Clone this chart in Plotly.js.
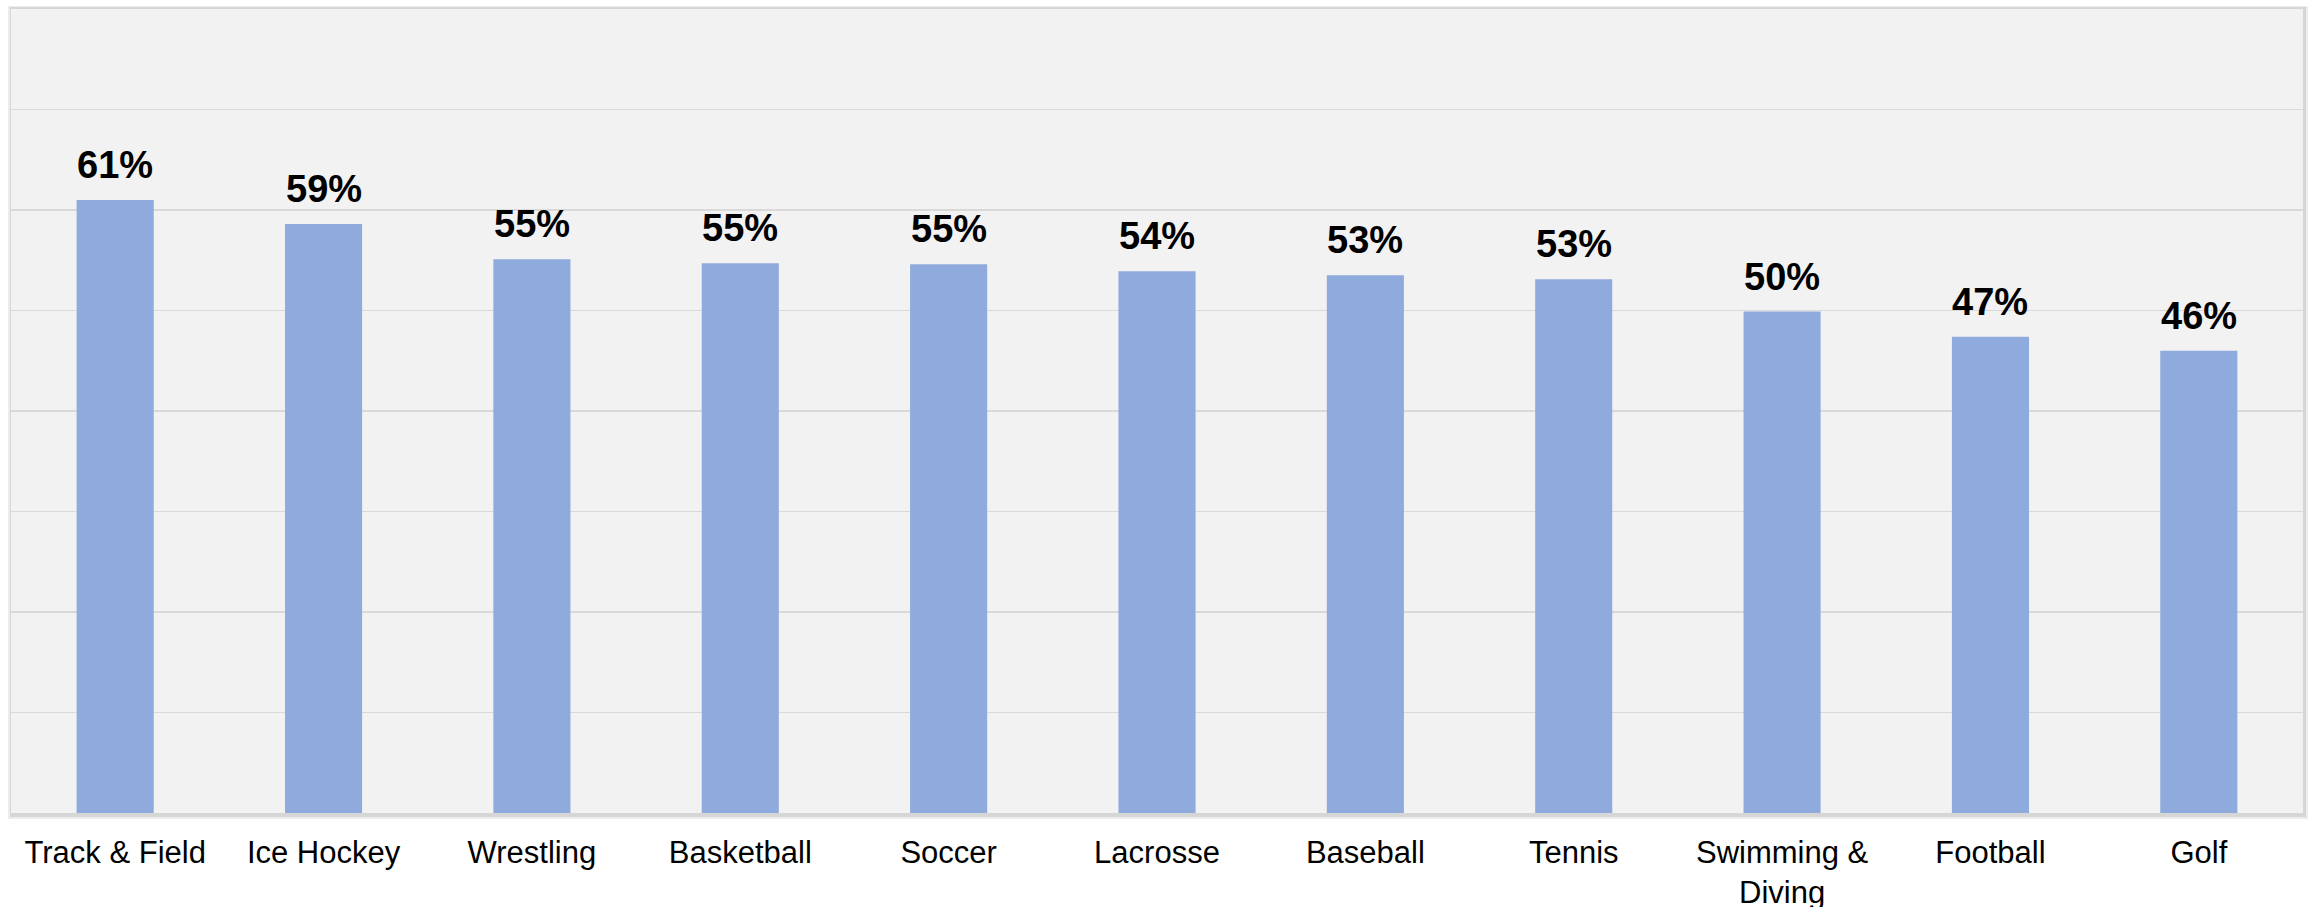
<!DOCTYPE html>
<html>
<head>
<meta charset="utf-8">
<script src="https://cdn.plot.ly/plotly-3.0.1.min.js"></script>
<style>
  html, body { margin: 0; padding: 0; background: #ffffff; }
  #chart { width: 2315px; height: 907px; }
</style>
</head>
<body>
<div id="chart"></div>
<script>
// ---- data ----
const categories = ["Track & Field", "Ice Hockey", "Wrestling", "Basketball", "Soccer",
                    "Lacrosse", "Baseball", "Tennis", "Swimming &<br>Diving", "Football", "Golf"];
const shares = [0.610, 0.586, 0.551, 0.547, 0.546, 0.539, 0.535, 0.531, 0.499, 0.474, 0.460];
const labelTexts = ["61%", "59%", "55%", "55%", "55%", "54%", "53%", "53%", "50%", "47%", "46%"];

// ---- geometry (pixels) ----
const W = 2315, H = 907;
const mL = 11, mR = 12, mT = 9, mB = 94;
const plotW = W - mL - mR, plotH = H - mT - mB;
const px = v => v / plotW, py = v => v / plotH;

const trace = {
  type: "bar",
  x: categories,
  y: shares,
  marker: { color: "#8FAADC", line: { width: 0 } },
  hoverinfo: "x+y"
};

const annotations = categories.map((c, i) => ({
  x: c, y: shares[i], xref: "x", yref: "y",
  text: labelTexts[i], showarrow: false,
  yanchor: "bottom", yshift: 12,
  font: { family: "Liberation Sans, Arial, sans-serif", size: 38, color: "#000000", weight: "bold" }
}));

const layout = {
  width: W, height: H,
  margin: { l: mL, r: mR, t: mT, b: mB, pad: 0 },
  paper_bgcolor: "#ffffff",
  plot_bgcolor: "rgba(0,0,0,0)",
  bargap: 0.63,
  showlegend: false,
  xaxis: {
    type: "category",
    showgrid: false, zeroline: false, showline: false,
    ticks: "", ticklabelstandoff: 18,
    tickfont: { family: "Liberation Sans, Arial, sans-serif", size: 31, color: "#000000" },
    fixedrange: true
  },
  yaxis: {
    range: [0, 0.8],
    dtick: 0.1, tick0: 0,
    showgrid: true, gridcolor: "#D9D9D9", gridwidth: 1.5,
    zeroline: false, showline: false, showticklabels: false, ticks: "",
    fixedrange: true
  },
  annotations: annotations,
  shapes: [
    { type: "rect", xref: "paper", yref: "paper", layer: "below",
      x0: px(-3), x1: 1 + px(5), y0: -py(6), y1: 1 + py(3),
      fillcolor: "#ececec", line: { width: 0 } },
    { type: "rect", xref: "paper", yref: "paper", layer: "below",
      x0: px(-1), x1: 1 + px(3), y0: -py(4), y1: 1 + py(2),
      fillcolor: "#d6d6d6", line: { width: 0 } },
    { type: "rect", xref: "paper", yref: "paper", layer: "below",
      x0: 0, x1: 1, y0: 0, y1: 1,
      fillcolor: "#F2F2F2", line: { width: 0 } }
  ]
};

Plotly.newPlot("chart", [trace], layout, { displayModeBar: false, staticPlot: true });
</script>
</body>
</html>
